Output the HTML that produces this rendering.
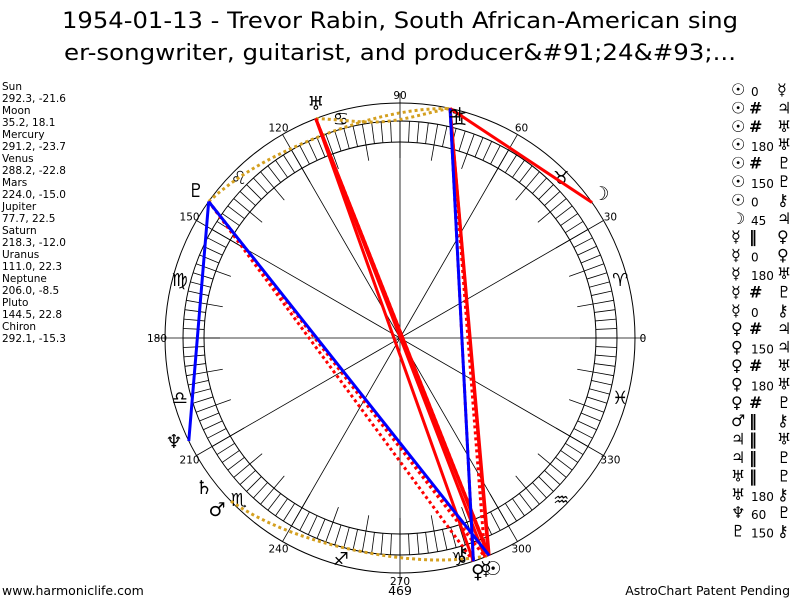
<!DOCTYPE html>
<html><head><meta charset="utf-8"><style>
body{margin:0;background:#fff;width:800px;height:600px;overflow:hidden;font-family:"DejaVu Sans",sans-serif}
</style></head><body>
<svg id="s" width="800" height="600" xmlns="http://www.w3.org/2000/svg" font-family="DejaVu Sans, sans-serif">
<text x="400" y="28" font-size="22" text-anchor="middle" textLength="676" lengthAdjust="spacingAndGlyphs">1954-01-13 - Trevor Rabin, South African-American sing</text>
<text x="400" y="60" font-size="22" text-anchor="middle" textLength="672" lengthAdjust="spacingAndGlyphs">er-songwriter, guitarist, and producer&amp;#91;24&amp;#93;...</text>
<g font-size="10.5" fill="#000">
<text x="2" y="90">Sun</text><text x="2" y="102">292.3, -21.6</text>
<text x="2" y="114">Moon</text><text x="2" y="126">35.2, 18.1</text>
<text x="2" y="138">Mercury</text><text x="2" y="150">291.2, -23.7</text>
<text x="2" y="162">Venus</text><text x="2" y="174">288.2, -22.8</text>
<text x="2" y="186">Mars</text><text x="2" y="198">224.0, -15.0</text>
<text x="2" y="210">Jupiter</text><text x="2" y="222">77.7, 22.5</text>
<text x="2" y="234">Saturn</text><text x="2" y="246">218.3, -12.0</text>
<text x="2" y="258">Uranus</text><text x="2" y="270">111.0, 22.3</text>
<text x="2" y="282">Neptune</text><text x="2" y="294">206.0, -8.5</text>
<text x="2" y="306">Pluto</text><text x="2" y="318">144.5, 22.8</text>
<text x="2" y="330">Chiron</text><text x="2" y="342">292.1, -15.3</text>
</g>
<text x="2" y="595" font-size="12.5">www.harmoniclife.com</text>
<text x="790" y="595" font-size="12.5" text-anchor="end">AstroChart Patent Pending</text>
<text x="400" y="595" font-size="12.5" text-anchor="middle">469</text>
<g id="chart"></g>
<g id="asp" font-size="14" font-family="DejaVu Sans, sans-serif"></g>
</svg>
<script>
var NS="http://www.w3.org/2000/svg",cx=400,cy=338,ch=document.getElementById('chart');
function P(a,r){var t=a*Math.PI/180;return [cx+r*Math.cos(t),cy-r*Math.sin(t)];}
function el(n,at,p,txt){var e=document.createElementNS(NS,n);for(var k in at)e.setAttribute(k,at[k]);if(txt!=null)e.textContent=txt;(p||ch).appendChild(e);return e;}
function line(a,b,c,w,d){var at={x1:a[0],y1:a[1],x2:b[0],y2:b[1],stroke:c,"stroke-width":w};if(d)at["stroke-dasharray"]=d;el('line',at);}
el('circle',{cx:cx,cy:cy,r:235,fill:'none',stroke:'#000','stroke-width':1});
el('circle',{cx:cx,cy:cy,r:217,fill:'none',stroke:'#000','stroke-width':1});
el('circle',{cx:cx,cy:cy,r:196,fill:'none',stroke:'#000','stroke-width':1});
for(var i=0;i<360;i+=2.5){line(P(i,196),P(i,217),'#000',0.8);}
for(var i=0;i<360;i+=10){line(P(i,180),P(i,196),'#000',0.8);}
for(var i=0;i<360;i+=30){line(P(i,0),P(i,i%90==0?245:235),'#000',0.8);}
for(var i=0;i<360;i+=30){var p=P(i,243);el('text',{x:p[0],y:p[1]+4,'font-size':10.5,'text-anchor':'middle'},null,String(i));}
var signs="♈♉♊♋♌♍♎♏♐♑♒♓";
for(var i=0;i<12;i++){var p=P(15+30*i,228);el('text',{x:p[0],y:p[1]+7,'font-size':18,'text-anchor':'middle','font-family':'DejaVu Sans, sans-serif'},null,signs[i]);}
var L={Su:292.3,Mo:35.2,Me:291.2,Ve:288.2,Ma:224,Ju:77.7,Sa:218.3,Ur:111,Ne:206,Pl:144.5,Ch:292.1};
function curve(a,b){var pts=[];var d=b-a;for(var k=0;k<=20;k++){var t=k/20;var r=235-18*Math.sin(Math.PI*t);pts.push(P(a+d*t,r).join(','));}
el('polyline',{points:pts.join(' '),fill:'none',stroke:'#d4a020','stroke-width':3,'stroke-dasharray':'3,3'});}
curve(L.Pl,L.Ju);curve(L.Ur,L.Ju);curve(L.Ma,L.Ch);
function asp(a,b,c,d){line(P(L[a],235),P(L[b],235),c,3,d);}
asp('Ju','Mo','#f00');
['Su','Me','Ve','Ch'].forEach(function(x){asp('Ur',x,'#f00');});
asp('Ju','Su','#f00');asp('Ju','Ch','#f00');
asp('Ju','Me','#f00','3,3');asp('Ur','Su','#f00','3,3');asp('Ju','Ve','#f00','3,3');
asp('Pl','Me','#f00','3,3');asp('Pl','Ve','#f00','3,3');asp('Pl','Ch','#f00','3,3');
asp('Pl','Su','#00f');asp('Pl','Ne','#00f');asp('Ju','Ve','#00f');
var G={Su:'☉',Mo:'☽',Me:'☿',Ve:'♀',Ma:'♂',Ju:'♃',Sa:'♄',Ur:'♅',Ne:'♆',Pl:'♇',Ch:'⚷'};
var gp={Su:[493,575],Mo:[601,200],Me:[486,575],Ve:[478,578],Ma:[217,516],Ju:[455,121],Sa:[204,494],Ur:[316,110],Ne:[174,448],Pl:[196,197],Ch:[462,560]};
for(var k in gp)el('text',{x:gp[k][0],y:gp[k][1],'font-size':19,'text-anchor':'middle','font-family':'DejaVu Sans, sans-serif'},null,G[k]);
var rows=[['☉','0','☿'],['☉','#','♃'],['☉','#','♅'],['☉','180','♅'],['☉','#','♇'],['☉','150','♇'],['☉','0','⚷'],['☽','45','♃'],['☿','‖','♀'],['☿','0','♀'],['☿','180','♅'],['☿','#','♇'],['☿','0','⚷'],['♀','#','♃'],['♀','150','♃'],['♀','#','♅'],['♀','180','♅'],['♀','#','♇'],['♂','‖','⚷'],['♃','‖','♅'],['♃','‖','♇'],['♅','‖','♇'],['♅','180','⚷'],['♆','60','♇'],['♇','150','⚷']];
var ag=document.getElementById('asp');
rows.forEach(function(r,i){var y=95+i*18.4;
el('text',{x:731,y:y,'font-size':16},ag,r[0]);
var s=r[1];if(s=='#'||s=='‖')el('text',{x:749,y:y,'font-size':16,'font-weight':'bold'},ag,s);else el('text',{x:751,y:y+1,'font-size':12},ag,s);
el('text',{x:777,y:y,'font-size':16},ag,r[2]);});
</script>
</body></html>
